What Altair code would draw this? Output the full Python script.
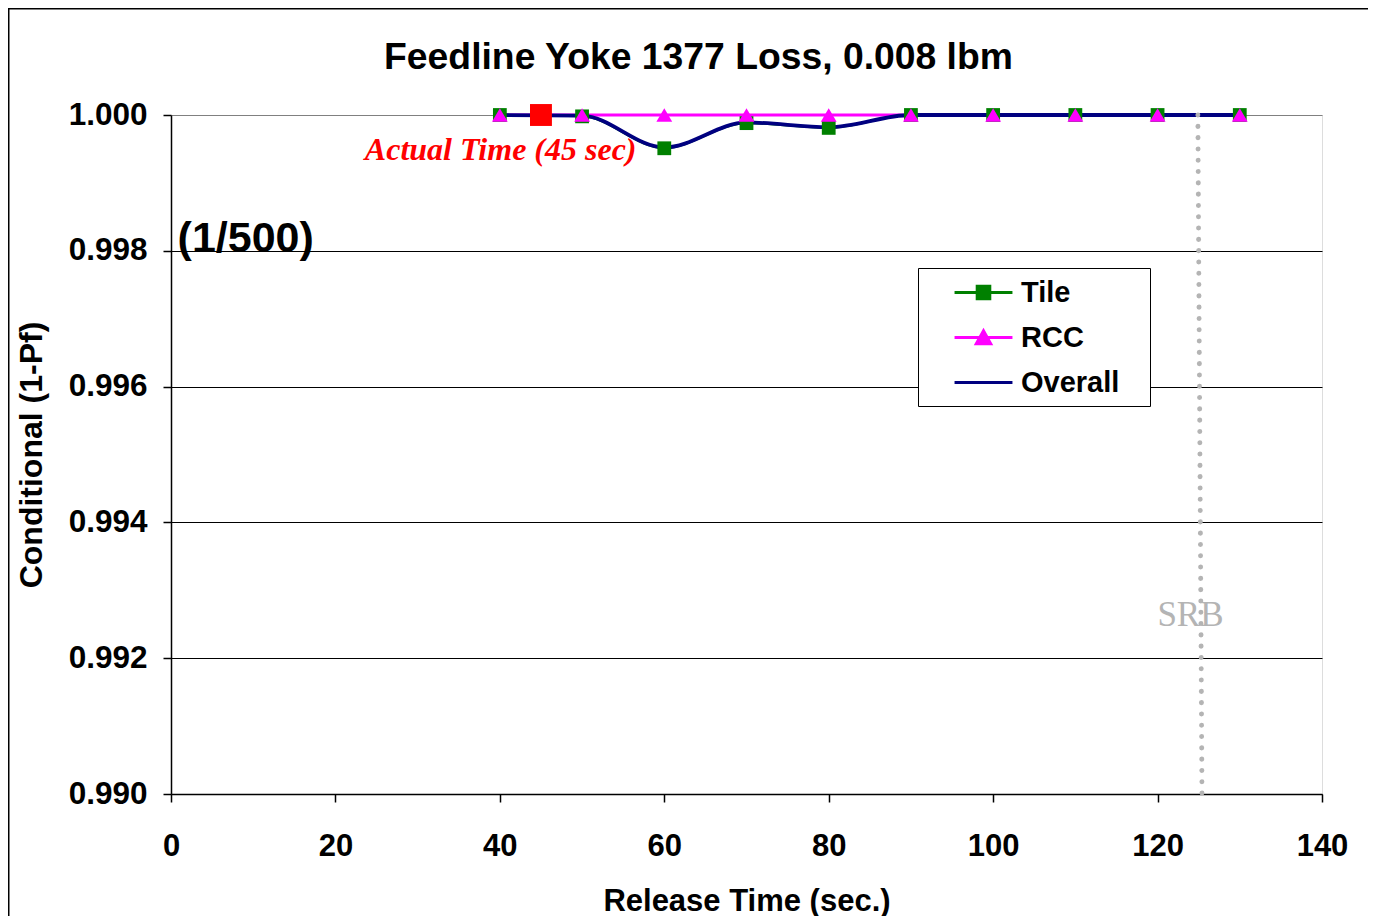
import altair as alt
import pandas as pd

# ---- data ----
release_time = [40, 50, 60, 70, 80, 90, 100, 110, 120, 130]
tile = [1.0, 0.99998, 0.99951, 0.99988, 0.99981, 1.0, 1.0, 1.0, 1.0, 1.0]
rcc = [1.0, 1.0, 1.0, 1.0, 1.0, 1.0, 1.0, 1.0, 1.0, 1.0]
overall = [1.0, 0.99999, 0.99952, 0.99989, 0.99982, 1.0, 1.0, 1.0, 1.0, 1.0]

series_names = ["Tile", "RCC", "Overall"]
series_colors = ["#008000", "#FF00FF", "#000080"]

actual_time = [45]
actual_value = [1.0]

srb_x = [124.9]
srb_x2 = [125.4]
srb_y_top = [1.0]
srb_y_bottom = [0.990]

x_ticks = [0, 20, 40, 60, 80, 100, 120, 140]
y_ticks = [0.990, 0.992, 0.994, 0.996, 0.998, 1.000]

annotations = ["Actual Time (45 sec)", "(1/500)", "SRB"]
annot_x = [40.1, 0.8, 124.0]
annot_y = [0.99948, 0.99818, 0.99264]

FONT = "Liberation Sans"

df = pd.DataFrame({
    "t": release_time * 3,
    "v": tile + rcc + overall,
    "series": ["Tile"] * 10 + ["RCC"] * 10 + ["Overall"] * 10,
})
tile_df = df[df.series == "Tile"]
rcc_df = df[df.series == "RCC"]
ov_df = df[df.series == "Overall"]

xs = alt.Scale(domain=[0, 140], nice=False, zero=False)
ys = alt.Scale(domain=[0.990, 1.000], nice=False, zero=False)

X = alt.X("t:Q", scale=xs, axis=alt.Axis(
    values=x_ticks, grid=False, tickSize=8, tickColor="black", tickWidth=1.5,
    domainColor="black", domainWidth=1.5, labelFont=FONT, labelFontWeight="bold",
    labelFontSize=31, labelColor="black", labelPadding=29, labelFlush=False,
    labelOverlap=False,
    title="Release Time (sec.)", titleFont=FONT, titleFontWeight="bold",
    titleFontSize=31, titleColor="black", titlePadding=25))
Y = alt.Y("v:Q", scale=ys, axis=alt.Axis(
    values=y_ticks, format=".3f", grid=True,
    gridColor=alt.condition("datum.value >= 1", alt.value("#808080"), alt.value("black")),
    gridWidth=1.2, tickSize=8, tickColor="black", tickWidth=1.5,
    domainColor="black", domainWidth=1.5, labelFont=FONT, labelFontWeight="bold",
    labelFontSize=31.5, labelColor="black", labelPadding=16, labelOverlap=False,
    title="Conditional (1-Pf)", titleFont=FONT, titleFontWeight="bold",
    titleFontSize=32, titleColor="black", titlePadding=20))

# outer frame of the figure: top and left edges
frame_data = pd.DataFrame({"d": [0]})
frame_top = alt.Chart(frame_data).mark_rule(color="black", strokeWidth=2).encode(
    x=alt.value(-163), x2=alt.value(1197), y=alt.value(-106.5))
frame_left = alt.Chart(frame_data).mark_rule(color="black", strokeWidth=2).encode(
    x=alt.value(-162.5), y=alt.value(-107), y2=alt.value(801))

tile_line = alt.Chart(tile_df).mark_line(
    color="#008000", strokeWidth=2, interpolate="monotone").encode(x=X, y=Y)
rcc_line = alt.Chart(rcc_df).mark_line(
    color="#FF00FF", strokeWidth=3).encode(x="t:Q", y="v:Q")
ov_line = alt.Chart(ov_df).mark_line(
    color="#000080", strokeWidth=3.8, interpolate="monotone").encode(x="t:Q", y="v:Q")
tile_pts = alt.Chart(tile_df).mark_point(
    shape="square", filled=True, color="#008000", size=190, opacity=1).encode(x="t:Q", y="v:Q")
rcc_pts = alt.Chart(rcc_df).mark_point(
    shape="triangle-up", filled=True, color="#FF00FF", size=250, opacity=1).encode(x="t:Q", y="v:Q")

act_df = pd.DataFrame({"t": actual_time, "v": actual_value})
act_pt = alt.Chart(act_df).mark_point(
    shape="square", filled=True, color="#FF0000", size=480, opacity=1).encode(x="t:Q", y="v:Q")

srb_df = pd.DataFrame({"t": srb_x, "t2": srb_x2, "v": srb_y_top, "v2": srb_y_bottom})
srb_rule = alt.Chart(srb_df).mark_rule(
    color="#b4b4b4", strokeWidth=5, strokeCap="round", strokeDash=[0.1, 11.2]).encode(
    x="t:Q", x2="t2:Q", y="v:Q", y2="v2:Q")

ann_df = pd.DataFrame({"label": annotations, "t": annot_x, "v": annot_y})
txt_actual = alt.Chart(ann_df.iloc[[0]]).mark_text(
    font="Liberation Serif", fontStyle="italic", fontWeight="bold", fontSize=32,
    color="#FF0000", align="center", baseline="middle").encode(x="t:Q", y="v:Q", text="label:N")
txt_ratio = alt.Chart(ann_df.iloc[[1]]).mark_text(
    font=FONT, fontWeight="bold", fontSize=43, color="black",
    align="left", baseline="middle").encode(x="t:Q", y="v:Q", text="label:N")
txt_srb = alt.Chart(ann_df.iloc[[2]]).mark_text(
    font="Liberation Serif", fontSize=35, color="#b4b4b4",
    align="center", baseline="middle").encode(x="t:Q", y="v:Q", text="label:N")

# legend built from the series scale, with line+marker symbols
sym_tile = "M-1.93,0H1.93M-0.42,-0.42H0.42V0.42H-0.42Z"
sym_rcc = "M-1.93,0H1.93M-0.48,0.42L0,-0.45L0.48,0.42Z"
sym_ov = "M-1.93,0H1.93"
leg_scale_fill = alt.Scale(domain=series_names, range=series_colors)
leg_scale_shape = alt.Scale(domain=series_names, range=[sym_tile, sym_rcc, sym_ov])
legend = alt.Legend(
    title="W", titleOrient="right", titleColor="white", titleFontSize=22,
    titlePadding=2,
    orient="none", legendX=747, legendY=153,
    labelFont=FONT, labelFontWeight="bold", labelFontSize=29, labelColor="black",
    symbolSize=900, symbolStrokeWidth=3, labelOffset=21, rowPadding=13,
    padding=8, symbolOffset=41, strokeColor="black", fillColor="white",
    cornerRadius=0)
legend_layer = alt.Chart(df).mark_point(filled=True, opacity=1, strokeWidth=3).encode(
    x="t:Q", y="v:Q",
    fill=alt.Fill("series:N", scale=leg_scale_fill, legend=legend, sort=series_names),
    stroke=alt.Stroke("series:N", scale=leg_scale_fill, legend=legend, sort=series_names),
    shape=alt.Shape("series:N", scale=leg_scale_shape, legend=legend, sort=series_names),
).transform_filter("false")

chart = alt.layer(
    frame_top, frame_left, tile_line, rcc_line, ov_line, tile_pts, rcc_pts, act_pt,
    srb_rule, txt_actual, txt_ratio, txt_srb, legend_layer
).properties(
    width=1151, height=679,
    title=alt.TitleParams(
        "Feedline Yoke 1377 Loss, 0.008 lbm", font=FONT, fontWeight="bold",
        fontSize=37.3, color="black", anchor="middle", frame="group", dx=-48,
        dy=37, offset=-62, baseline="alphabetic"),
    padding={"left": 163, "top": 107, "right": 46, "bottom": 122},
    autosize=alt.AutoSizeParams(type="none"),
).configure_view(stroke="#808080", strokeWidth=2).configure(background="white")

chart.save("out.html", embed_options={"renderer": "svg", "actions": False})
